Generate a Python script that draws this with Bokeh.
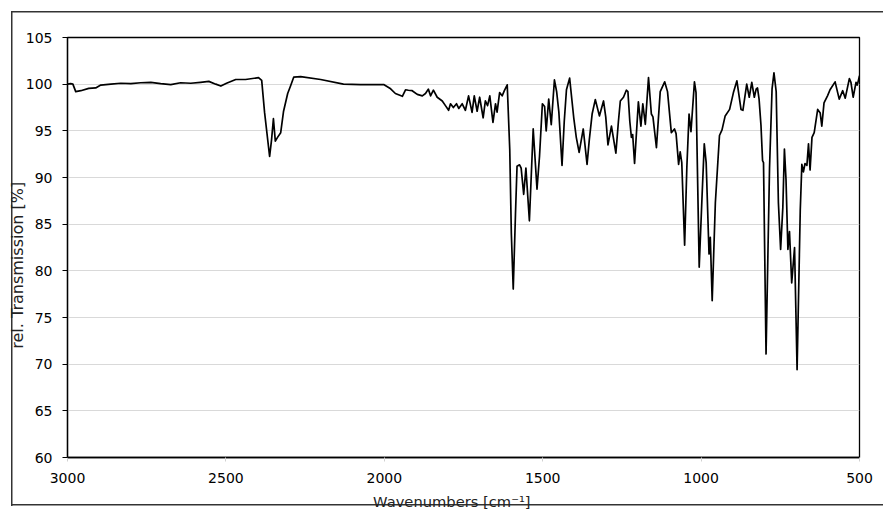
from bokeh.plotting import figure
from bokeh.models import Range1d, FixedTicker
from bokeh.embed import file_html
from bokeh.resources import INLINE

# IR spectrum: wavenumber [cm^-1] vs. relative transmission [%]
wavenumber = [
    3000, 2990, 2983, 2974, 2958, 2933, 2911, 2895, 2863, 2832, 2800, 2769,
    2737, 2706, 2674, 2643, 2611, 2580, 2554, 2532, 2516, 2498, 2469, 2438,
    2397, 2387, 2378, 2362, 2356, 2350, 2344, 2337, 2327, 2318, 2305, 2296,
    2286, 2264, 2201, 2129, 2075, 2002, 1980, 1965, 1943, 1933, 1924, 1912,
    1896, 1880, 1870, 1861, 1854, 1845, 1833, 1817, 1807, 1797, 1791, 1782,
    1772, 1765, 1754, 1744, 1734, 1723, 1716, 1707, 1699, 1688, 1681, 1674,
    1667, 1657, 1649, 1644, 1636, 1628, 1621, 1612, 1604, 1599, 1593, 1586,
    1581, 1573, 1568, 1560, 1553, 1542, 1530, 1518, 1510, 1501, 1494, 1489,
    1481, 1473, 1463, 1456, 1449, 1439, 1432, 1425, 1415, 1402, 1394, 1385,
    1372, 1360, 1353, 1344, 1334, 1321, 1308, 1301, 1294, 1283, 1269, 1261,
    1255, 1245, 1236, 1231, 1225, 1220, 1216, 1210, 1198, 1190, 1184, 1176,
    1166, 1157, 1152, 1141, 1129, 1115, 1106, 1094, 1084, 1079, 1071, 1066,
    1061, 1052, 1045, 1038, 1032, 1021, 1016, 1006, 997, 990, 984, 975,
    971, 965, 955, 942, 934, 924, 910, 898, 887, 874, 868, 856,
    848, 840, 832, 826, 822, 817, 811, 806, 803, 795, 784, 776,
    770, 763, 756, 749, 742, 737, 732, 726, 721, 714, 705, 697,
    687, 682, 677, 672, 666, 661, 656, 650, 643, 632, 624, 619,
    612, 601, 593, 577, 564, 553, 545, 532, 527, 520, 511, 507,
    500,
]
transmission = [
    100.0, 100.05, 100.0, 99.2, 99.3, 99.55, 99.6, 99.9, 100.0, 100.1, 100.05, 100.15,
    100.2, 100.05, 99.95, 100.15, 100.1, 100.2, 100.3, 100.0, 99.8, 100.1, 100.5, 100.5,
    100.7, 100.4, 97.0, 92.25, 94.0, 96.3, 93.9, 94.3, 94.8, 97.1, 99.0, 99.8,
    100.75, 100.8, 100.5, 100.0, 99.95, 99.96, 99.5, 99.0, 98.7, 99.4, 99.35, 99.3,
    98.9, 98.75, 99.0, 99.47, 98.75, 99.36, 98.6, 98.2, 97.7, 97.2, 97.9, 97.5,
    97.9, 97.4, 97.9, 97.2, 98.75, 96.97, 98.75, 97.1, 98.6, 96.4, 98.2, 97.7,
    98.75, 95.9, 97.9, 97.0, 99.1, 98.75, 99.3, 99.93, 93.0, 84.0, 78.05, 86.0,
    91.2, 91.36, 91.0, 88.2, 91.0, 85.36, 95.2, 88.75, 92.3, 97.9, 97.6, 95.0,
    98.4, 95.65, 100.45, 99.2, 97.0, 91.3, 96.0, 99.4, 100.65, 96.4, 94.3, 92.7,
    95.2, 91.4, 94.0, 96.8, 98.35, 96.6, 98.2, 96.5, 93.5, 95.5, 92.6, 96.0,
    98.2, 98.6, 99.35, 99.2, 96.0, 94.3, 94.6, 91.5, 98.1, 95.5, 97.9, 95.7,
    100.7, 96.8, 96.5, 93.2, 99.2, 100.25, 99.2, 94.8, 95.2, 94.7, 91.4, 92.75,
    91.6, 82.75, 91.1, 96.8, 94.9, 100.25, 99.1, 80.4, 88.0, 93.6, 91.6, 81.8,
    83.6, 76.8, 87.3, 94.5, 95.1, 96.6, 97.3, 99.1, 100.36, 97.3, 97.2, 100.0,
    98.6, 100.2, 98.6, 99.5, 99.6, 98.4, 95.6, 91.8, 91.6, 71.1, 91.0, 99.5,
    101.2, 99.2, 87.3, 82.3, 86.8, 93.05, 89.8, 82.3, 84.2, 78.7, 82.5, 69.4,
    86.5, 91.4, 90.6, 91.5, 91.3, 93.6, 90.8, 94.3, 94.8, 97.3, 96.9, 95.5,
    98.0, 98.75, 99.4, 100.25, 98.4, 99.3, 98.5, 100.6, 100.2, 98.6, 100.2, 99.9,
    100.9,
]

x_ticks = [3000, 2500, 2000, 1500, 1000, 500]
y_ticks = [60, 65, 70, 75, 80, 85, 90, 95, 100, 105]

FONT = "DejaVu Sans"
NBSP = "\u00a0"

# thin frame around the whole chart (drawn as host background, canvas is transparent)
chart_border = {
    "background-color": "white",
    "background-image": "linear-gradient(#333,#333), linear-gradient(#333,#333), "
                        "linear-gradient(#333,#333)",
    "background-size": "1.5px 495px, 880px 1.5px, 880px 1.5px",
    "background-position": "11px 11px, 11px 11px, 11px 504px",
    "background-repeat": "no-repeat",
}

p = figure(
    width=883, height=512,
    x_range=Range1d(3000, 500), y_range=Range1d(60, 105),
    output_backend="svg", toolbar_location=None,
    min_border_left=67, min_border_right=24,
    min_border_top=37, min_border_bottom=55,
    background_fill_color="white", border_fill_color=None,
    styles=chart_border,
)

p.outline_line_color = "black"
p.outline_line_width = 1.3

# horizontal grid only
p.xgrid.grid_line_color = None
p.ygrid.grid_line_color = "#d9d9d9"
p.ygrid.grid_line_width = 1

p.xaxis.ticker = FixedTicker(ticks=x_ticks)
p.yaxis.ticker = FixedTicker(ticks=y_ticks)

for ax in (p.xaxis, p.yaxis):
    ax.axis_line_color = "black"
    ax.axis_line_width = 1.3
    ax.minor_tick_line_color = None
    ax.major_label_text_font = FONT
    ax.major_label_text_font_size = "14px"
    ax.major_label_text_color = "black"
    ax.axis_label_text_font = FONT
    ax.axis_label_text_font_style = "normal"
    ax.axis_label_text_color = "#222222"

p.xaxis.axis_label = "Wavenumbers [cm⁻¹]" + NBSP * 5
p.xaxis.axis_label_text_font_size = "14.7px"
p.xaxis.major_tick_in = 0
p.xaxis.major_tick_out = 4
p.xaxis.major_tick_line_color = "#d0d0d0"
p.xaxis.major_label_standoff = 11
p.xaxis.axis_label_standoff = 7

p.yaxis.axis_label = "rel. Transmission [%]" + NBSP * 7
p.yaxis.axis_label_text_font_size = "16px"
p.yaxis.major_tick_in = 0
p.yaxis.major_tick_out = 5
p.yaxis.major_tick_line_color = "black"
p.yaxis.major_label_standoff = 10
p.yaxis.axis_label_standoff = -4

p.line(wavenumber, transmission, line_color="black", line_width=1.7,
       line_join="round")

open("out.html", "w").write(file_html(p, INLINE))
